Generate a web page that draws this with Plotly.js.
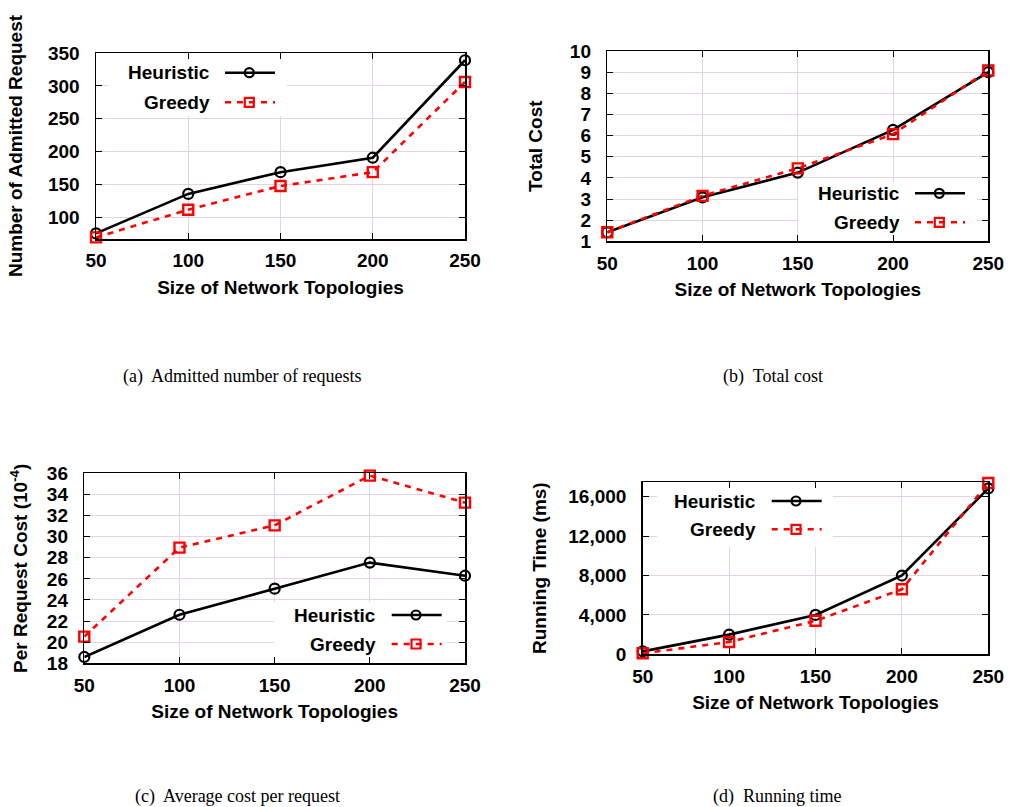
<!DOCTYPE html>
<html>
<head>
<meta charset="utf-8">
<script src="https://cdn.plot.ly/plotly-3.0.1.min.js"></script>
<style>
html,body{margin:0;padding:0;background:#fff;}
#chart{width:1009px;height:807px;}
</style>
</head>
<body>
<div id="chart"></div>
<script>
// ---- data ----
const sizes = [50, 100, 150, 200, 250];
const seriesNames = ["Heuristic", "Greedy"];

const admittedHeuristic = [76, 136, 169, 191, 339];
const admittedGreedy    = [70, 112, 148, 169, 306];

const costHeuristic = [1.43, 3.08, 4.25, 6.27, 9.0];
const costGreedy    = [1.43, 3.15, 4.45, 6.07, 9.08];

const perReqHeuristic = [18.6, 22.6, 25.07, 27.54, 26.3];
const perReqGreedy    = [20.53, 28.96, 31.07, 35.78, 33.22];

const timeHeuristic = [300, 2000, 4000, 8000, 16850];
const timeGreedy    = [100, 1250, 3400, 6600, 17400];

const xTitle = "Size of Network Topologies";
const yTitles = ["Number of Admitted Request", "Total Cost",
                 "Per Request Cost (10<sup>-4</sup>)", "Running Time (ms)"];
const captions = ["(a)  Admitted number of requests", "(b)  Total cost",
                  "(c)  Average cost per request", "(d)  Running time"];

// ---- layout helpers ----
const W = 1009, H = 807;
const px = v => v / W;
const py = v => 1 - v / H;

const BLACK = "#000000", RED = "#ff0000", GRID = "#e3d3e3";
const tickFont = {family: "Liberation Sans, Arial, sans-serif", size: 19, color: "#000", weight: "bold"};
const capFont = {family: "Liberation Serif, Times New Roman, serif", size: 18, color: "#000", weight: "normal"};

// plot frames in pixels: [left, right, top, bottom]
const frames = [
  [96, 465, 53, 239],
  [607.3, 988.3, 51, 241.3],
  [84.3, 465, 473.3, 663.3],
  [642.7, 988.3, 482, 654.3]
];
const xRange = [50, 250];
const yRanges = [[67.5, 350], [1, 10], [18, 36], [0, 17500]];
const yDticks = [50, 1, 2, 4000];
const yTick0 = [100, 1, 18, 0];
const yTitleStandoff = [20, 22, 14, 16];

const heurData = [admittedHeuristic, costHeuristic, perReqHeuristic, timeHeuristic];
const greedData = [admittedGreedy, costGreedy, perReqGreedy, timeGreedy];

// legend geometry (pixels): text right edge, row y's, sample x0,x1, marker x, white box
const legends = [
  {tr: 212, y: [72.7, 102.3], s0: 225, s1: 275, m: 249.3, box: [108, 287, 53, 116]},
  {tr: 902, y: [193.3, 222.3], s0: 915, s1: 965, m: 939.3, box: [798, 977, 182, 241.3]},
  {tr: 378.3, y: [615, 644], s0: 391.7, s1: 441.7, m: 416, box: [274, 447, 602, 663.3]},
  {tr: 758.3, y: [501, 529.3], s0: 771.7, s1: 821.7, m: 796, box: [657, 833, 482, 547]}
];
const captionPos = [[241.5, 376], [772.5, 376], [237, 796], [777, 796]];

const traces = [];
const layout = {
  width: W, height: H,
  margin: {l: 0, r: 0, t: 0, b: 0},
  paper_bgcolor: "#fff", plot_bgcolor: "#fff",
  showlegend: false,
  font: tickFont,
  shapes: [], annotations: []
};

for (let i = 0; i < 4; i++) {
  const sfx = i === 0 ? "" : String(i + 1);
  const xa = "x" + sfx, ya = "y" + sfx;
  const f = frames[i];
  traces.push({
    x: sizes, y: heurData[i], xaxis: xa, yaxis: ya, name: seriesNames[0],
    type: "scatter", mode: "lines+markers", cliponaxis: false,
    line: {color: BLACK, width: 2.6},
    marker: {symbol: "circle-open", size: 10, color: BLACK, line: {width: 2.2, color: BLACK}}
  });
  traces.push({
    x: sizes, y: greedData[i], xaxis: xa, yaxis: ya, name: seriesNames[1],
    type: "scatter", mode: "lines+markers", cliponaxis: false,
    line: {color: RED, width: 2.6, dash: "6px,6px"},
    marker: {symbol: "square-open", size: 10, color: RED, line: {width: 2.4, color: RED}}
  });
  layout["xaxis" + sfx] = {
    domain: [px(f[0]), px(f[1])], anchor: ya,
    range: xRange, tickvals: sizes, ticktext: sizes.map(String),
    showgrid: true, gridcolor: GRID, gridwidth: 1, zeroline: false,
    showline: true, linecolor: BLACK, linewidth: 1.5, mirror: "ticks",
    ticks: "inside", ticklen: 6, tickcolor: BLACK, tickwidth: 1,
    tickfont: tickFont, ticklabelstandoff: 4,
    title: {text: xTitle, font: tickFont, standoff: 10},
    automargin: false, fixedrange: true
  };
  layout["yaxis" + sfx] = {
    domain: [py(f[3]), py(f[2])], anchor: xa,
    range: yRanges[i], tick0: yTick0[i], dtick: yDticks[i],
    tickformat: i === 3 ? ",d" : "",
    showgrid: true, gridcolor: GRID, gridwidth: 1, zeroline: false,
    showline: true, linecolor: BLACK, linewidth: 1.5, mirror: "ticks",
    ticks: "inside", ticklen: 6, tickcolor: BLACK, tickwidth: 1,
    tickfont: tickFont, ticklabelstandoff: 11,
    title: {text: yTitles[i], font: tickFont, standoff: yTitleStandoff[i]},
    automargin: false, fixedrange: true
  };

  // legend (gnuplot-style: label, then sample)
  const L = legends[i];
  const yr = yRanges[i];
  const toX = v => xRange[0] + (v - f[0]) / (f[1] - f[0]) * (xRange[1] - xRange[0]);
  const toY = v => yr[0] + (f[3] - v) / (f[3] - f[2]) * (yr[1] - yr[0]);
  layout.shapes.push({
    type: "rect", xref: xa, yref: ya, layer: "between",
    x0: toX(L.box[0]), x1: toX(L.box[1]), y0: toY(L.box[3]), y1: toY(L.box[2]),
    fillcolor: "#ffffff", line: {width: 0}
  });
  const colors = [BLACK, RED];
  for (let k = 0; k < 2; k++) {
    layout.annotations.push({
      xref: "paper", yref: "paper", x: px(L.tr), y: py(L.y[k]),
      xanchor: "right", yanchor: "middle", showarrow: false,
      text: seriesNames[k], font: tickFont
    });
    layout.shapes.push({
      type: "line", xref: "paper", yref: "paper", layer: "above",
      x0: px(L.s0), x1: px(L.s1), y0: py(L.y[k]), y1: py(L.y[k]),
      line: {color: colors[k], width: 2.6, dash: k === 0 ? "solid" : "6px,6px"}
    });
    const r = 4.5;
    layout.shapes.push({
      type: k === 0 ? "circle" : "rect", xref: "paper", yref: "paper", layer: "above",
      x0: px(L.m - r), x1: px(L.m + r), y0: py(L.y[k] + r), y1: py(L.y[k] - r),
      line: {color: colors[k], width: 2.2}
    });
  }
  // caption
  layout.annotations.push({
    xref: "paper", yref: "paper", x: px(captionPos[i][0]), y: py(captionPos[i][1]),
    xanchor: "center", yanchor: "middle", showarrow: false,
    text: captions[i], font: capFont
  });
}

Plotly.newPlot("chart", traces, layout, {staticPlot: true, displayModeBar: false});
</script>
</body>
</html>
